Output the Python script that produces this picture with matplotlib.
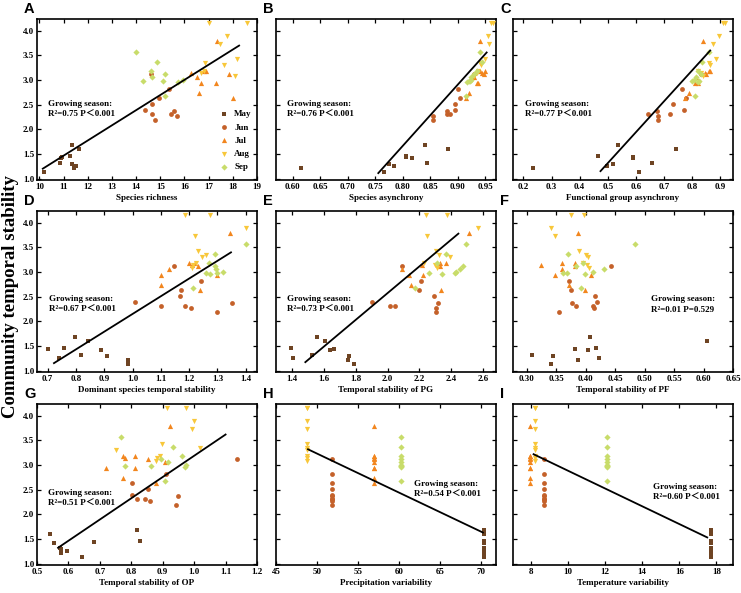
"""
Community temporal stability vs. diversity / stability / climate drivers,
nine scatter panels (A-I) coloured by month, with growing-season fits.
"""
import numpy as np
import matplotlib
matplotlib.use("Agg")
import matplotlib.pyplot as plt

plt.rcParams['font.family'] = ['Liberation Serif', 'Noto Sans CJK SC']
plt.rcParams['font.weight'] = 'bold'

months = ['May', 'Jun', 'Jul', 'Aug', 'Sep']
colors = ['#6e4423', '#c4612a', '#f2861e', '#f8c73a', '#c8dc6a']
markers = ['s', 'o', '^', 'v', 'D']
msizes = [12, 12, 14, 14, 10]

# community temporal stability (y), 10 plots per month
stab_may = [1.13, 1.31, 1.42, 1.45, 1.68, 1.29, 1.21, 1.25, 1.60, 1.43]
stab_jun = [2.40, 3.12, 2.51, 2.32, 2.19, 2.64, 2.81, 2.32, 2.37, 2.26]
stab_jul = [3.14, 3.06, 2.73, 2.95, 3.18, 3.18, 2.95, 3.79, 3.13, 2.63]
stab_aug = [4.15, 4.15, 3.89, 3.73, 3.31, 3.14, 3.43, 3.35, 3.09, 3.18]
stab_sep = [3.57, 2.99, 3.18, 3.07, 3.37, 2.99, 3.12, 2.67, 2.96, 3.01]
stability = [stab_may, stab_jun, stab_jul, stab_aug, stab_sep]

# x values, same order as the stability lists
richness = [
    [10.2, 10.85, 10.9, 11.25, 11.35, 11.35, 11.45, 11.5, 11.65, 10.95],
    [14.35, 14.6, 14.65, 14.65, 14.8, 14.95, 15.35, 15.45, 15.55, 15.7],
    [16.25, 16.5, 16.6, 16.7, 16.8, 16.9, 17.3, 17.35, 17.85, 18.0],
    [17.03, 18.6, 17.76, 17.48, 17.65, 16.67, 18.16, 16.86, 18.1, 16.8],
    [14.0, 14.3, 14.6, 14.65, 14.85, 15.1, 15.2, 15.2, 15.75, 15.95],
]
sp_asyn = [
    [0.766, 0.845, 0.817, 0.806, 0.840, 0.776, 0.616, 0.785, 0.882, 0.806],
    [0.896, 0.930, 0.896, 0.881, 0.855, 0.905, 0.900, 0.887, 0.881, 0.855],
    [0.945, 0.930, 0.920, 0.935, 0.940, 0.950, 0.938, 0.941, 0.948, 0.915],
    [0.965, 0.960, 0.955, 0.958, 0.942, 0.935, 0.950, 0.940, 0.930, 0.938],
    [0.940, 0.920, 0.935, 0.925, 0.945, 0.922, 0.930, 0.915, 0.918, 0.925],
]
fg_asyn = [
    [0.612, 0.658, 0.589, 0.465, 0.536, 0.520, 0.233, 0.496, 0.742, 0.589],
    [0.771, 0.830, 0.731, 0.643, 0.679, 0.777, 0.765, 0.720, 0.676, 0.679],
    [0.845, 0.815, 0.790, 0.810, 0.865, 0.860, 0.820, 0.840, 0.850, 0.775],
    [0.915, 0.910, 0.895, 0.875, 0.865, 0.830, 0.885, 0.860, 0.840, 0.820],
    [0.860, 0.800, 0.820, 0.815, 0.835, 0.825, 0.830, 0.810, 0.820, 0.805],
]
dom_stab = [
    [0.984, 0.816, 0.889, 0.759, 0.796, 0.911, 0.985, 0.739, 0.842, 0.700],
    [1.010, 1.146, 1.166, 1.100, 1.297, 1.173, 1.243, 1.186, 1.350, 1.205],
    [1.210, 1.130, 1.100, 1.100, 1.200, 1.220, 1.297, 1.345, 1.230, 1.240],
    [1.184, 1.273, 1.400, 1.220, 1.245, 1.215, 1.232, 1.260, 1.210, 1.225],
    [1.400, 1.300, 1.270, 1.295, 1.290, 1.260, 1.290, 1.212, 1.275, 1.320],
]
pg_stab = [
    [1.79, 1.526, 1.64, 1.396, 1.56, 1.76, 1.75, 1.406, 1.61, 1.665],
    [1.905, 2.088, 2.29, 2.017, 2.303, 2.196, 2.21, 2.046, 2.318, 2.303],
    [2.215, 2.088, 2.145, 2.136, 2.326, 2.368, 2.22, 2.51, 2.33, 2.337],
    [2.24, 2.37, 2.57, 2.246, 2.39, 2.30, 2.303, 2.32, 2.31, 2.23],
    [2.49, 2.26, 2.31, 2.455, 2.365, 2.42, 2.47, 2.17, 2.34, 2.43],
]
pf_stab = [
    [0.342, 0.310, 0.404, 0.418, 0.407, 0.345, 0.387, 0.423, 0.606, 0.382],
    [0.419, 0.444, 0.416, 0.383, 0.355, 0.376, 0.372, 0.412, 0.377, 0.415],
    [0.325, 0.360, 0.372, 0.348, 0.360, 0.382, 0.410, 0.387, 0.382, 0.399],
    [0.375, 0.398, 0.342, 0.349, 0.404, 0.402, 0.389, 0.400, 0.406, 0.395],
    [0.484, 0.361, 0.395, 0.431, 0.371, 0.368, 0.383, 0.392, 0.399, 0.413],
]
op_stab = [
    [0.642, 0.572, 0.553, 0.828, 0.817, 0.575, 0.577, 0.595, 0.541, 0.682],
    [0.801, 1.136, 0.852, 0.819, 0.943, 0.803, 0.910, 0.845, 0.948, 0.858],
    [0.780, 0.906, 0.775, 0.721, 0.773, 0.813, 0.813, 0.924, 0.852, 0.880],
    [0.914, 0.973, 1.001, 0.994, 0.750, 0.883, 0.899, 1.020, 0.878, 0.890],
    [0.767, 0.863, 0.962, 0.917, 0.933, 0.780, 0.893, 0.906, 0.972, 0.975],
]
# one climate value per month
precip_var = [70.3, 51.8, 56.9, 48.8, 60.2]
temp_var = [17.7, 8.7, 7.95, 8.2, 12.1]

# fitted lines (endpoints)
fit_a = ([10.14, 18.26], [1.20, 3.70])
fit_b = ([0.756, 0.953], [1.11, 3.56])
fit_c = ([0.474, 0.864], [1.15, 3.60])
fit_d = ([0.722, 1.348], [1.15, 3.40])
fit_e = ([1.484, 2.444], [1.17, 3.78])
fit_g = ([0.567, 1.100], [1.32, 3.62])
fit_h = ([48.9, 70.2], [3.32, 1.63])
fit_i = ([8.14, 17.51], [3.22, 1.53])

panels = [
    ('A', richness, 'Species richness', (9.9, 19.0), np.arange(10, 20, 1), '%d',
     fit_a, 'R\u00b2=0.75 P\uff1c0.001', (0.05, 0.5)),
    ('B', sp_asyn, 'Species asynchrony', (0.57, 0.97), np.arange(0.60, 0.96, 0.05), '%.2f',
     fit_b, 'R\u00b2=0.76 P\uff1c0.001', (0.05, 0.5)),
    ('C', fg_asyn, 'Functional group asynchrony', (0.163, 0.945), np.arange(0.2, 0.91, 0.1), '%.1f',
     fit_c, 'R\u00b2=0.77 P\uff1c0.001', (0.055, 0.5)),
    ('D', dom_stab, 'Dominant species temporal stability', (0.662, 1.44), np.arange(0.7, 1.41, 0.1), '%.1f',
     fit_d, 'R\u00b2=0.67 P\uff1c0.001', (0.056, 0.48)),
    ('E', pg_stab, 'Temporal stability of PG', (1.30, 2.68), np.arange(1.4, 2.61, 0.2), '%.1f',
     fit_e, 'R\u00b2=0.73 P\uff1c0.001', (0.049, 0.48)),
    ('F', pf_stab, 'Temporal stability of PF', (0.277, 0.65), np.arange(0.30, 0.66, 0.05), '%.2f',
     None, 'R\u00b2=0.01 P=0.529', (0.626, 0.48)),
    ('G', op_stab, 'Temporal stability of OP', (0.5, 1.2), np.arange(0.5, 1.21, 0.1), '%.1f',
     fit_g, 'R\u00b2=0.51 P\uff1c0.001', (0.051, 0.47)),
    ('H', precip_var, 'Precipitation variability', (45, 71.8), np.arange(45, 71, 5), '%d',
     fit_h, 'R\u00b2=0.54 P\uff1c0.001', (0.626, 0.53)),
    ('I', temp_var, 'Temperature variability', (7.03, 18.9), np.arange(8, 19, 2), '%d',
     fit_i, 'R\u00b2=0.60 P\uff1c0.001', (0.635, 0.51)),
]

fig = plt.figure(figsize=(7.41, 5.93), dpi=100)
W, H = 741.0, 593.0
col_left = [37, 276, 513]
row_top = [19, 211, 404]
ax_w, ax_h = 220, 161

for n, (letter, xdata, xlabel, xlim, xticks, fmt, fit, stat, txt) in enumerate(panels):
    r, c = divmod(n, 3)
    ax = fig.add_axes([col_left[c] / W, 1 - (row_top[r] + ax_h) / H, ax_w / W, ax_h / H])
    for m in range(5):
        xs = xdata[m]
        if np.isscalar(xs):
            xs = [xs] * len(stability[m])
        ax.scatter(xs, stability[m], s=msizes[m], marker=markers[m], c=colors[m],
                   linewidths=0, label=months[m], zorder=3)
    if fit is not None:
        ax.plot(fit[0], fit[1], color='black', lw=1.3, zorder=4)

    ax.set_xlim(*xlim)
    ax.set_ylim(0.97, 4.24)
    ax.set_xticks(xticks)
    ax.set_xticklabels([fmt % v for v in xticks])
    ax.set_yticks(np.arange(1.0, 4.01, 0.5))
    if c == 0:
        ax.set_yticklabels(['%.1f' % v for v in np.arange(1.0, 4.01, 0.5)])
    else:
        ax.set_yticklabels([])
    ax.tick_params(direction='in', top=True, right=True, length=3, width=0.9,
                   labelsize=6.5, pad=2)
    for lab in ax.get_xticklabels() + ax.get_yticklabels():
        lab.set_fontweight('bold')
    for sp in ax.spines.values():
        sp.set_linewidth(1.2)
    ax.set_xlabel(xlabel, fontsize=6.5, fontweight='bold', labelpad=2)

    ax.text(txt[0], txt[1], 'Growing season:\n' + stat, transform=ax.transAxes,
            fontsize=6.5, fontweight='bold', va='top', ha='left', linespacing=1.5)

    fig.text((col_left[c] - 13) / W, 1 - (row_top[r] - 10) / H, letter,
             fontsize=10.5, fontweight='bold', family='Liberation Sans',
             ha='left', va='center')

    if letter == 'A':
        ax.legend(loc='lower right', bbox_to_anchor=(1.0, 0.02), frameon=False,
                  handletextpad=0.6, labelspacing=0.55,
                  borderaxespad=0.2, handlelength=1.0,
                  prop={'weight': 'bold', 'size': 6.5})

fig.text(11 / W, 0.5, 'Community temporal stability', rotation=90,
         fontsize=13.5, fontweight='bold', ha='center', va='center')

fig.savefig('out.png', dpi=100)
